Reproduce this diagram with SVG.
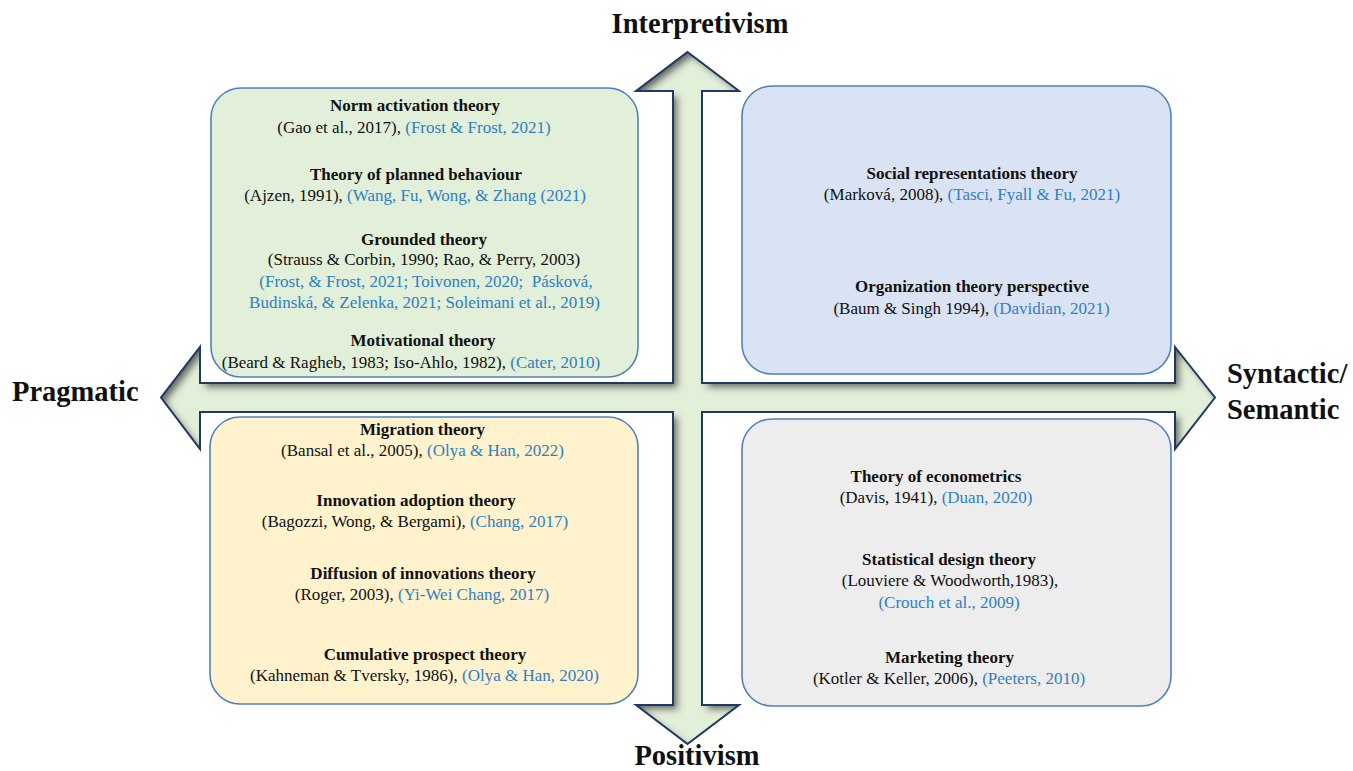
<svg xmlns="http://www.w3.org/2000/svg" width="1353" height="771" viewBox="0 0 1353 771">
<style>
text{font-family:"Liberation Serif","Times New Roman",serif;fill:#111;}
.axis{font-size:28.5px;font-weight:bold;}
.t{font-size:17px;font-weight:bold;text-anchor:middle;}
.c{font-size:17px;text-anchor:middle;}
.b{fill:#2F80C4;}
.box{stroke:#4F81BD;stroke-width:1.6;}
</style>
<defs>
<filter id="inner" x="-5%" y="-10%" width="110%" height="120%">
<feComponentTransfer in="SourceAlpha" result="inv"><feFuncA type="table" tableValues="1 0"/></feComponentTransfer>
<feOffset in="inv" dx="5" dy="5" result="off"/>
<feGaussianBlur in="off" stdDeviation="3.5" result="blur"/>
<feFlood flood-color="#1a1a1a" flood-opacity="0.85"/>
<feComposite in2="blur" operator="in" result="sh"/>
<feComposite in="sh" in2="SourceAlpha" operator="in" result="ish"/>
<feMerge><feMergeNode in="SourceGraphic"/><feMergeNode in="ish"/></feMerge>
</filter>
</defs>
<rect width="1353" height="771" fill="#fff"/>
<g id="connectors">
<polygon id="cross-fill" filter="url(#inner)" fill="#E2EFD9" points="687.5,52 739,91 702,91 702,383 1175,383 1175,347 1215,397.5 1175,449 1175,412 702,412 702,705 739,705 687.5,744 636,705 673,705 673,412 200,412 200,449 161,397.5 200,347 200,383 673,383 673,91 636,91"/>
<polygon id="cross-line" fill="none" stroke="#1F3864" stroke-width="2" stroke-linejoin="miter" points="687.5,52 739,91 702,91 702,383 1175,383 1175,347 1215,397.5 1175,449 1175,412 702,412 702,705 739,705 687.5,744 636,705 673,705 673,412 200,412 200,449 161,397.5 200,347 200,383 673,383 673,91 636,91"/>
</g>
<g id="labels">
<text class="axis" x="700" y="33" text-anchor="middle">Interpretivism</text>
<text class="axis" x="12" y="401">Pragmatic</text>
<text class="axis" x="1227" y="383">Syntactic/</text>
<text class="axis" x="1227" y="419">Semantic</text>
<text class="axis" x="697" y="765" text-anchor="middle">Positivism</text>
</g>
<g id="q-pragmatic-interpretivism">
<rect class="box" x="211" y="88" width="427" height="289" rx="30" fill="#E2EFD9"/>
<text class="t" x="415" y="111">Norm activation theory</text>
<text class="c" x="414" y="133">(Gao et al., 2017), <tspan class="b">(Frost &amp; Frost, 2021)</tspan></text>
<text class="t" x="416" y="180">Theory of planned behaviour</text>
<text class="c" x="415" y="201">(Ajzen, 1991), <tspan class="b">(Wang, Fu, Wong, &amp; Zhang (2021)</tspan></text>
<text class="t" x="424" y="245">Grounded theory</text>
<text class="c" x="424" y="265">(Strauss &amp; Corbin, 1990; Rao, &amp; Perry, 2003)</text>
<text class="c b" x="426" y="287" xml:space="preserve">(Frost, &amp; Frost, 2021; Toivonen, 2020;  Pásková,</text>
<text class="c b" x="424.5" y="308">Budinská, &amp; Zelenka, 2021; Soleimani et al., 2019)</text>
<text class="t" x="423" y="346">Motivational theory</text>
<text class="c" x="411" y="368">(Beard &amp; Ragheb, 1983; Iso-Ahlo, 1982), <tspan class="b">(Cater, 2010)</tspan></text>
</g>
<g id="q-syntactic-interpretivism">
<rect class="box" x="742" y="86" width="429" height="288" rx="30" fill="#DAE3F3"/>
<text class="t" x="972" y="179">Social representations theory</text>
<text class="c" x="972" y="200">(Marková, 2008), <tspan class="b">(Tasci, Fyall &amp; Fu, 2021)</tspan></text>
<text class="t" x="972" y="292">Organization theory perspective</text>
<text class="c" x="971.5" y="314">(Baum &amp; Singh 1994), <tspan class="b">(Davidian, 2021)</tspan></text>
</g>
<g id="q-pragmatic-positivism">
<rect class="box" x="210" y="417" width="428" height="287" rx="30" fill="#FFF2CC"/>
<text class="t" x="422.5" y="435">Migration theory</text>
<text class="c" x="422.5" y="456">(Bansal et al., 2005), <tspan class="b">(Olya &amp; Han, 2022)</tspan></text>
<text class="t" x="416" y="506">Innovation adoption theory</text>
<text class="c" x="415" y="527">(Bagozzi, Wong, &amp; Bergami), <tspan class="b">(Chang, 2017)</tspan></text>
<text class="t" x="423" y="579">Diffusion of innovations theory</text>
<text class="c" x="422" y="600">(Roger, 2003), <tspan class="b">(Yi-Wei Chang, 2017)</tspan></text>
<text class="t" x="425" y="660">Cumulative prospect theory</text>
<text class="c" x="424.5" y="681">(Kahneman &amp; Tversky, 1986), <tspan class="b">(Olya &amp; Han, 2020)</tspan></text>
</g>
<g id="q-syntactic-positivism">
<rect class="box" x="742" y="419" width="429" height="287" rx="30" fill="#EDEDED"/>
<text class="t" x="936" y="482">Theory of econometrics</text>
<text class="c" x="936" y="503">(Davis, 1941), <tspan class="b">(Duan, 2020)</tspan></text>
<text class="t" x="949" y="565">Statistical design theory</text>
<text class="c" x="950" y="586">(Louviere &amp; Woodworth,1983),</text>
<text class="c b" x="949" y="608">(Crouch et al., 2009)</text>
<text class="t" x="949.5" y="663">Marketing theory</text>
<text class="c" x="949" y="684">(Kotler &amp; Keller, 2006), <tspan class="b">(Peeters, 2010)</tspan></text>
</g>
</svg>
